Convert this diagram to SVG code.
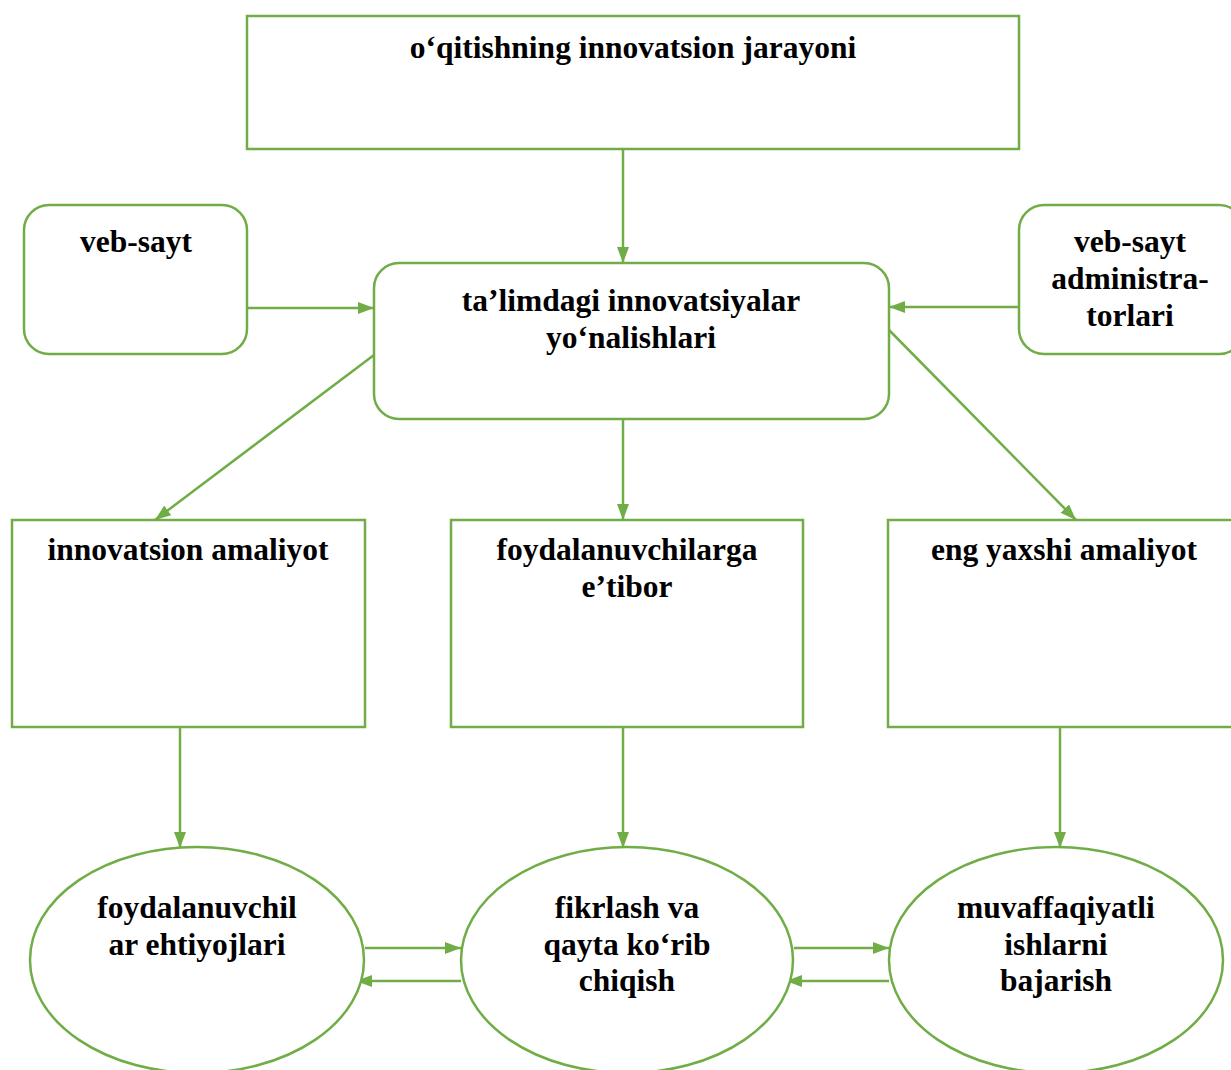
<svg xmlns="http://www.w3.org/2000/svg" width="1231" height="1070" viewBox="0 0 1231 1070">
<defs>
<style>
.n{fill:#fff;stroke:#70AD47;stroke-width:2.5}
.c{fill:none;stroke:#70AD47;stroke-width:2.5}
text{font-family:"Liberation Serif","Times New Roman",serif;font-weight:bold;font-size:31.5px;fill:#000;text-anchor:middle}
</style>
<marker id="b" viewBox="0 0 16 12" refX="16" refY="6" markerWidth="16" markerHeight="12" markerUnits="userSpaceOnUse" orient="auto">
<path d="M0,0 L16,6 L0,12 z" fill="#70AD47"/>
</marker>
</defs>
<rect width="1231" height="1070" fill="#fff"/>
<g id="connectors">
<line class="c" x1="623" y1="149" x2="623" y2="263" marker-end="url(#b)"/>
<line class="c" x1="247" y1="308" x2="374" y2="308" marker-end="url(#b)"/>
<line class="c" x1="1019" y1="307" x2="889" y2="307" marker-end="url(#b)"/>
<line class="c" x1="374" y1="355" x2="155" y2="520" marker-end="url(#b)"/>
<line class="c" x1="889" y1="330" x2="1076" y2="520" marker-end="url(#b)"/>
<line class="c" x1="623" y1="419" x2="623" y2="520" marker-end="url(#b)"/>
<line class="c" x1="180" y1="727" x2="180" y2="848" marker-end="url(#b)"/>
<line class="c" x1="623" y1="727" x2="623" y2="848" marker-end="url(#b)"/>
<line class="c" x1="1060" y1="727" x2="1060" y2="848" marker-end="url(#b)"/>
<line class="c" x1="365" y1="948" x2="461" y2="948" marker-end="url(#b)"/>
<line class="c" x1="461" y1="981" x2="356" y2="981" marker-end="url(#b)"/>
<line class="c" x1="794" y1="948" x2="889" y2="948" marker-end="url(#b)"/>
<line class="c" x1="889" y1="981" x2="786" y2="981" marker-end="url(#b)"/>
</g>
<g id="top"><rect class="n" x="247" y="16" width="772" height="133"/><text x="633" y="58">o‘qitishning innovatsion jarayoni</text></g>
<g id="veb-sayt"><rect class="n" x="24" y="205" width="223" height="149" rx="25"/><text x="136" y="252">veb-sayt</text></g>
<g id="center"><rect class="n" x="374" y="263" width="515" height="156" rx="25"/><text x="631" y="311">ta’limdagi innovatsiyalar</text><text x="631" y="348">yo‘nalishlari</text></g>
<g id="admins"><rect class="n" x="1019" y="205" width="225" height="149" rx="25"/><text x="1130" y="252">veb-sayt</text><text x="1130" y="289">administra-</text><text x="1130" y="326">torlari</text></g>
<g id="innov"><rect class="n" x="12" y="520" width="353" height="207"/><text x="188" y="560">innovatsion amaliyot</text></g>
<g id="foyd"><rect class="n" x="451" y="520" width="352" height="207"/><text x="627" y="560">foydalanuvchilarga</text><text x="627" y="597">e’tibor</text></g>
<g id="eng"><rect class="n" x="888" y="520" width="354" height="207"/><text x="1064" y="560">eng yaxshi amaliyot</text></g>
<g id="ehtiyoj"><ellipse class="n" cx="197" cy="960" rx="167" ry="113"/><text x="197" y="918">foydalanuvchil</text><text x="197" y="955">ar ehtiyojlari</text></g>
<g id="fikrlash"><ellipse class="n" cx="627" cy="960" rx="166" ry="113"/><text x="627" y="918">fikrlash va</text><text x="627" y="955">qayta ko‘rib</text><text x="627" y="991">chiqish</text></g>
<g id="muvaff"><ellipse class="n" cx="1056" cy="960" rx="167" ry="113"/><text x="1056" y="918">muvaffaqiyatli</text><text x="1056" y="955">ishlarni</text><text x="1056" y="991">bajarish</text></g>
</svg>
